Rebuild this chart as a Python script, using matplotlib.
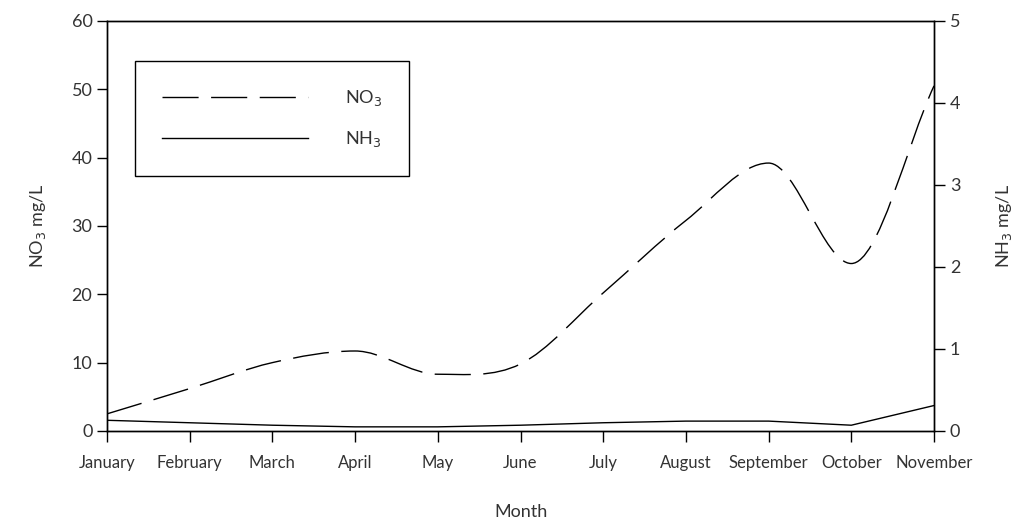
import matplotlib.pyplot as plt
import numpy as np
from matplotlib.path import Path
from matplotlib.patches import PathPatch
from matplotlib.lines import Line2D

plt.rcParams['font.family'] = ['Lato', 'DejaVu Sans']

months = ["January", "February", "March", "April", "May", "June",
          "July", "August", "September", "October", "November"]
no3 = [2.5, 6.2, 10.0, 11.7, 8.3, 9.8, 20.2, 30.8, 39.2, 24.5, 50.5]
nh3 = [0.13, 0.10, 0.07, 0.05, 0.05, 0.07, 0.10, 0.12, 0.12, 0.07, 0.31]

text_col = "#333333"
dash = (0, (26, 9))


def smooth_path(xs, ys):
    # cubic bezier through every point, flat tangent at peaks and dips
    xs = np.asarray(xs, float)
    ys = np.asarray(ys, float)
    n = len(xs)
    d = np.zeros(n)
    for i in range(n):
        if i == 0:
            d[i] = (ys[1] - ys[0]) / (xs[1] - xs[0])
        elif i == n - 1:
            d[i] = (ys[-1] - ys[-2]) / (xs[-1] - xs[-2])
        else:
            s0 = (ys[i] - ys[i - 1]) / (xs[i] - xs[i - 1])
            s1 = (ys[i + 1] - ys[i]) / (xs[i + 1] - xs[i])
            d[i] = 0.0 if s0 * s1 <= 0 else (s0 + s1) / 2
    verts = [(xs[0], ys[0])]
    codes = [Path.MOVETO]
    for i in range(n - 1):
        h = (xs[i + 1] - xs[i]) / 3
        verts += [(xs[i] + h, ys[i] + d[i] * h),
                  (xs[i + 1] - h, ys[i + 1] - d[i + 1] * h),
                  (xs[i + 1], ys[i + 1])]
        codes += [Path.CURVE4] * 3
    return Path(verts, codes)


fig = plt.figure(figsize=(10.19, 5.23), dpi=100)
ax = fig.add_axes([0.105, 0.176, 0.8116, 0.784])
ax2 = ax.twinx()

x = np.arange(len(months))

no3_patch = PathPatch(smooth_path(x, no3), facecolor='none', edgecolor='black',
                      linewidth=1.0, linestyle=dash, transform=ax.transData)
ax.add_patch(no3_patch)
ax2.plot(x, nh3, '-', color='black', linewidth=1.0)

ax.set_xlim(0, len(months) - 1)
ax.set_ylim(0, 60)
ax2.set_ylim(0, 5)
ax.set_xticks(x)
ax.set_xticklabels(months, fontsize=12, color=text_col)
ax.set_yticks(np.arange(0, 61, 10))
ax2.set_yticks(np.arange(0, 6, 1))
ax.tick_params(axis='y', labelsize=13, labelcolor=text_col, length=7, width=1, direction='out')
ax2.tick_params(axis='y', labelsize=13, labelcolor=text_col, length=8, width=1, direction='out')
ax.tick_params(axis='x', length=8, width=1, direction='out', pad=9)

ax.set_xlabel("Month", fontsize=13, color=text_col, labelpad=24)
ax.set_ylabel("NO$_3$ mg/L", fontsize=13, color=text_col, labelpad=17)
ax2.set_ylabel("NH$_3$ mg/L", fontsize=13, color=text_col, labelpad=24)

for a in (ax, ax2):
    for s in a.spines.values():
        s.set_linewidth(1.0)
        s.set_color('black')

handles = [Line2D([], [], color='black', linewidth=1.0, linestyle=dash),
           Line2D([], [], color='black', linewidth=1.0)]
leg = ax.legend(handles, ["NO$_3$", "NH$_3$"], loc='upper left',
                bbox_to_anchor=(0.034, 0.902), borderaxespad=0, fontsize=13,
                handlelength=8.1, handletextpad=2.0, labelspacing=1.15, borderpad=1.5,
                fancybox=False, framealpha=1, edgecolor='black', labelcolor=text_col)
leg.get_frame().set_linewidth(1.0)

fig.savefig("out.png", dpi=100)
